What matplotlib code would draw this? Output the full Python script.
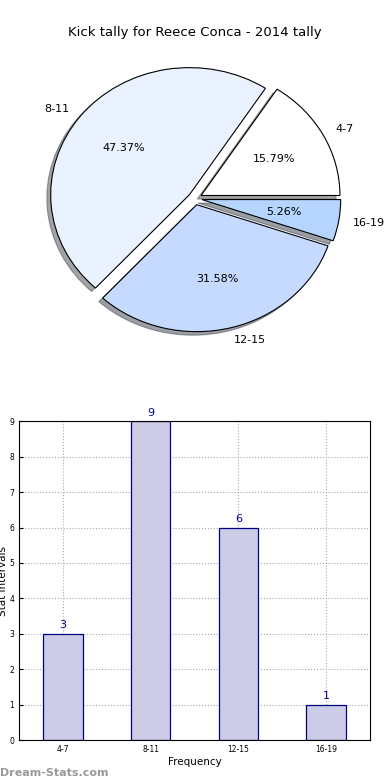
import numpy as np
import matplotlib
matplotlib.use("Agg")
import matplotlib.pyplot as plt

# data
labels = ["4-7", "8-11", "12-15", "16-19"]
counts = [3, 9, 6, 1]
pie_colors = ["#FFFFFF", "#EAF1FF", "#C6DAFF", "#B5D5FF"]

fig = plt.figure(figsize=(3.9, 7.8), dpi=100)

# -------------------------
# pie
ax1 = fig.add_axes([0.055, 0.542, 0.89, 0.407])
wedges, texts, autotexts = ax1.pie(counts, labels=labels, colors=pie_colors,
                                   explode=[0.05] * 4, autopct="%1.2f%%",
                                   shadow=True, startangle=0,
                                   wedgeprops=dict(edgecolor="black", linewidth=0.8),
                                   textprops=dict(fontsize=8))
ax1.set_aspect("auto")
ax1.set_xlim(-1.25, 1.25)
ax1.set_ylim(-1.25, 1.25)
ax1.set_title("Kick tally for Reece Conca - 2014 tally", fontsize=9.5, pad=3)

# -------------------------
# bars
ax2 = fig.add_axes([0.049, 0.051, 0.9, 0.409])
x = np.arange(len(labels))
ax2.bar(x, counts, width=0.45, color="#CCCCE6", edgecolor="#000080", linewidth=0.9, zorder=2)
for xi, c in zip(x, counts):
    ax2.text(xi, c + 0.1, str(c), ha="center", va="bottom", color="#00008B", fontsize=8)
ax2.set_xlim(-0.5, 3.5)
ax2.set_ylim(0, 9)
ax2.set_xticks(x)
ax2.set_xticklabels(labels)
ax2.set_yticks(range(10))
ax2.tick_params(labelsize=5.5, direction="in", length=3)
ax2.grid(True, linestyle=":", color="#AAAAAA", linewidth=0.8)
ax2.set_xlabel("Frequency", fontsize=7.5, labelpad=2)
ax2.set_ylabel("Stat Intervals", fontsize=7.5, labelpad=1)

fig.text(0.0, 0.003, "Dream-Stats.com", fontsize=8, color="#999999", fontweight="bold",
         ha="left", va="bottom")

fig.savefig("out.png", dpi=100)
